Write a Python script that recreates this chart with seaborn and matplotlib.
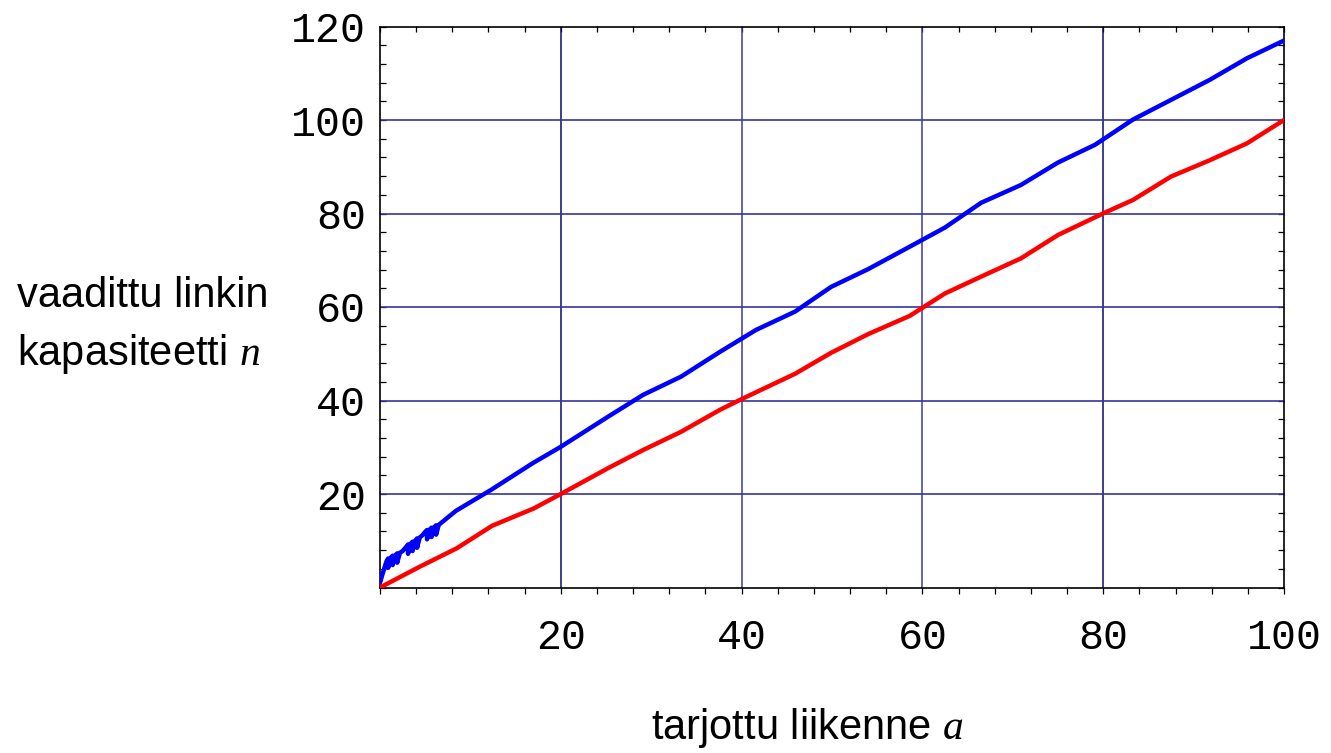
import matplotlib
matplotlib.use("Agg")
import matplotlib.pyplot as plt
import seaborn as sns
import pandas as pd
from matplotlib.ticker import MultipleLocator, FixedLocator, NullFormatter

# ---- data ----
red_x = [0, 4.4, 8.5, 12.4, 17.0, 20.0, 25.2, 29.1, 33.3, 37.6, 40.0, 45.9, 49.9,
         54.0, 58.6, 62.5, 66.5, 70.9, 75.0, 80.2, 83.3, 87.5, 91.8, 95.9, 100]
red_y = [0, 4.45, 8.4, 13.2, 16.9, 20.0, 25.5, 29.4, 33.3, 38.0, 40.3, 45.7, 50.2,
         54.2, 58.1, 62.9, 66.5, 70.4, 75.4, 80.2, 82.9, 87.9, 91.4, 95.0, 100]

blue_low_x = [0, 0.3, 0.7, 0.9, 0.9, 1.2, 1.4, 1.4, 1.7, 1.9, 1.9, 2.2, 2.5, 2.9,
              3.1, 3.1, 3.4, 3.6, 3.6, 3.9, 4.1, 4.1, 4.4, 4.7, 5.0, 5.2, 5.2,
              5.5, 5.7, 5.7, 6.0, 6.2, 6.2, 6.5]
blue_low_y = [1, 3, 5.5, 6.2, 4.2, 6.4, 6.8, 4.8, 6.9, 7.3, 5.3, 7.4, 7.8, 8.7,
              9.2, 7.2, 9.4, 9.8, 7.8, 10.0, 10.5, 8.5, 10.7, 11.2, 11.9, 12.3, 10.3,
              12.4, 12.8, 10.8, 12.9, 13.3, 11.3, 13.4]
blue_x = [8.4, 12.3, 16.9, 20.0, 25.2, 29.1, 33.3, 37.6, 41.6, 45.9, 49.9, 54.0,
          58.6, 62.5, 66.5, 70.9, 75.0, 79.1, 83.3, 87.5, 91.8, 95.9, 100]
blue_y = [16.4, 20.9, 26.6, 30.1, 36.5, 41.2, 45.1, 50.4, 55.1, 59.0, 64.3, 68.1,
          72.9, 77.0, 82.3, 86.1, 90.9, 94.7, 100.1, 104.3, 108.6, 113.2, 117.0]

x_ticks = [20, 40, 60, 80, 100]
y_ticks = [20, 40, 60, 80, 100, 120]
x_label = "tarjottu liikenne $a$"
y_label = "vaadittu linkin\nkapasiteetti $n$"

# ---- style ----
sns.set_theme(style="white")
plt.rcParams["font.family"] = ["Liberation Sans", "DejaVu Sans"]
plt.rcParams["mathtext.fontset"] = "custom"
plt.rcParams["mathtext.it"] = "Liberation Serif:italic"
plt.rcParams["mathtext.rm"] = "Liberation Serif"
plt.rcParams["text.color"] = "black"

fig = plt.figure(figsize=(13.31, 7.53), dpi=100)
ax = fig.add_axes([380 / 1331, 1 - 587.5 / 753, 904 / 1331, 561 / 753])

blue_df = pd.DataFrame({"x": blue_low_x + blue_x, "y": blue_low_y + blue_y})
red_df = pd.DataFrame({"x": red_x, "y": red_y})

# grid lines
for v in x_ticks[:-1]:
    col = "#0a0a70" if v in (20, 80) else "#3a3aa0"
    ax.axvline(v, color=col, lw=1.1, zorder=1)
for h in y_ticks[:-1]:
    ax.axhline(h, color="#3535a0", lw=1.2, zorder=1)

sns.lineplot(data=blue_df, x="x", y="y", sort=False, estimator=None,
             color="#0000ff", lw=3.2, ax=ax, zorder=3)
sns.lineplot(data=red_df, x="x", y="y", sort=False, estimator=None,
             color="#ff0000", lw=3.2, ax=ax, zorder=3)

ax.set_xlim(0, 100)
ax.set_ylim(0, 120)
ax.xaxis.set_major_locator(FixedLocator(x_ticks))
ax.yaxis.set_major_locator(FixedLocator(y_ticks))
ax.xaxis.set_minor_locator(MultipleLocator(4))
ax.yaxis.set_minor_locator(MultipleLocator(4))

mono = ["Liberation Mono", "DejaVu Sans Mono"]
ax.set_xticklabels([str(t) for t in x_ticks], family=mono, fontsize=30, color="black")
ax.set_yticklabels([str(t) for t in y_ticks], family=mono, fontsize=30, color="black")

ax.tick_params(axis="both", which="both", colors="black", width=0.9)
ax.tick_params(axis="y", which="both", direction="in", left=True, right=True,
               length=4, pad=10)
ax.tick_params(axis="x", which="both", direction="out", bottom=True, top=False,
               length=4, pad=18)

# top ticks pointing inward
top = ax.secondary_xaxis("top")
top.xaxis.set_major_locator(FixedLocator(x_ticks))
top.xaxis.set_minor_locator(MultipleLocator(4))
top.xaxis.set_major_formatter(NullFormatter())
top.tick_params(axis="x", which="both", direction="in", length=4, width=0.9,
                colors="black")
top.spines["top"].set_visible(False)

for spine in ax.spines.values():
    spine.set_visible(True)
    spine.set_color("black")
    spine.set_linewidth(1.2)

ax.set_xlabel("")
ax.set_ylabel("")
fig.text(807 / 1331, 1 - 728 / 753, x_label, ha="center", va="center",
         fontsize=30, color="black")
fig.text(143 / 1331, 1 - 326 / 753, y_label, ha="center", va="center",
         fontsize=30, linespacing=1.5, multialignment="left", color="black")

fig.savefig("out.png", dpi=100)
